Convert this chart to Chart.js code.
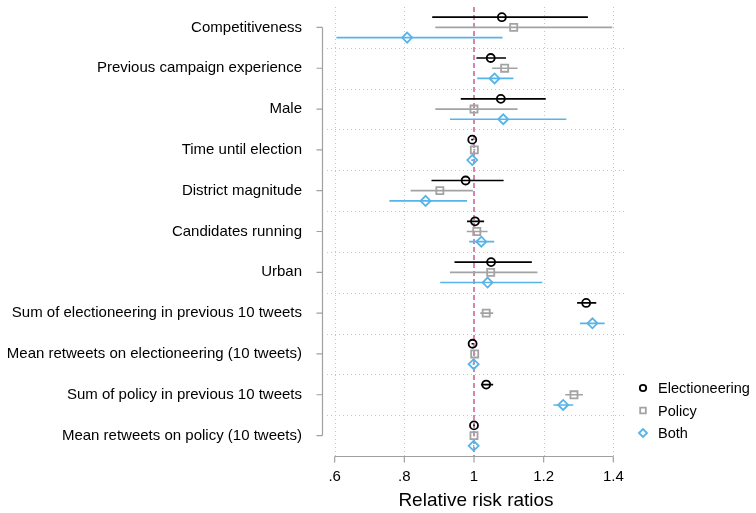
<!DOCTYPE html>
<html>
<head>
<meta charset="utf-8">
<script src="https://cdn.jsdelivr.net/npm/chart.js@4/dist/chart.umd.min.js"></script>
<style>
  html, body { margin: 0; padding: 0; background: #fff; }
  #wrap { width: 756px; height: 513px; }
</style>
</head>
<body>
<div id="wrap"><canvas id="chart"></canvas></div>
<script>
const categories = [
  'Competitiveness',
  'Previous campaign experience',
  'Male',
  'Time until election',
  'District magnitude',
  'Candidates running',
  'Urban',
  'Sum of electioneering in previous 10 tweets',
  'Mean retweets on electioneering (10 tweets)',
  'Sum of policy in previous 10 tweets',
  'Mean retweets on policy (10 tweets)'
];

// relative risk ratios with 95% CI
const elecEst = [1.080, 1.048, 1.077, 0.995, 0.976, 1.003, 1.049, 1.322, 0.996, 1.035, 1.000];
const elecLo  = [0.880, 1.007, 0.962, 0.992, 0.878, 0.980, 0.944, 1.296, 0.993, 1.020, 0.998];
const elecHi  = [1.327, 1.092, 1.206, 0.998, 1.085, 1.029, 1.166, 1.351, 0.999, 1.055, 1.002];

const polEst = [1.114, 1.088, 1.000, 1.001, 0.902, 1.008, 1.048, 1.035, 1.002, 1.287, 1.000];
const polLo  = [0.889, 1.052, 0.889, 0.998, 0.818, 0.979, 0.931, 1.018, 1.000, 1.262, 0.998];
const polHi  = [1.397, 1.125, 1.125, 1.004, 0.997, 1.039, 1.182, 1.055, 1.004, 1.313, 1.002];

const bothEst = [0.808, 1.059, 1.084, 0.995, 0.861, 1.021, 1.039, 1.340, 0.999, 1.256, 0.999];
const bothLo  = [0.605, 1.009, 0.931, 0.992, 0.757, 0.986, 0.903, 1.304, 0.996, 1.228, 0.997];
const bothHi  = [1.082, 1.113, 1.265, 0.998, 0.980, 1.058, 1.196, 1.375, 1.002, 1.285, 1.001];

const xTicks = [0.6, 0.8, 1, 1.2, 1.4];
const xTickLabels = ['.6', '.8', '1', '1.2', '1.4'];
const refValue = 1;

const FONT = "'Liberation Sans', Arial, Helvetica, sans-serif";
const AXIS_GREY = '#a0a0a0';

// series: label, estimates, lower, upper, vertical offset within a row, style
const series = [
  { label: 'Electioneering', est: elecEst, lo: elecLo, hi: elecHi, off: -0.25, color: '#000000', style: 'circle', r: 4 },
  { label: 'Policy',         est: polEst,  lo: polLo,  hi: polHi,  off: 0,     color: '#a3a3a3', style: 'rect',   r: 5 },
  { label: 'Both',           est: bothEst, lo: bothLo, hi: bothHi, off: 0.25,  color: '#56b4e9', style: 'rectRot', r: 5 }
];

const datasets = [];
series.forEach(s => {
  // point estimates on top
  datasets.push({
    type: 'scatter',
    label: s.label,
    data: s.est.map((v, i) => ({ x: v, y: i + s.off })),
    pointStyle: s.style,
    pointRadius: s.r,
    pointBorderWidth: 1.8,
    borderColor: s.color,
    backgroundColor: 'rgba(0,0,0,0)',
    order: 0
  });
  // CI segments as broken line
  const seg = [];
  s.lo.forEach((lo, i) => {
    seg.push({ x: lo, y: i + s.off });
    seg.push({ x: s.hi[i], y: i + s.off });
    seg.push({ x: null, y: null });
  });
  datasets.push({
    type: 'line',
    label: s.label + ' CI',
    data: seg,
    borderColor: s.color,
    borderWidth: 1.7,
    pointRadius: 0,
    spanGaps: false,
    fill: false,
    order: 1
  });
});

function drawMarker(ctx, style, r, cx, cy) {
  if (style === 'circle') {
    ctx.moveTo(cx + r, cy);
    ctx.arc(cx, cy, r, 0, Math.PI * 2);
  } else if (style === 'rect') {
    const h = r * Math.SQRT1_2;
    ctx.rect(cx - h, cy - h, 2 * h, 2 * h);
  } else {
    ctx.moveTo(cx - r, cy);
    ctx.lineTo(cx, cy - r);
    ctx.lineTo(cx + r, cy);
    ctx.lineTo(cx, cy + r);
    ctx.closePath();
  }
}

// grid, axis lines, reference line and legend, drawn stata-style
const framePlugin = {
  id: 'frame',
  beforeDatasetsDraw(chart) {
    const { ctx, chartArea: a, scales: { x, y } } = chart;
    ctx.save();
    ctx.lineWidth = 1;
    ctx.strokeStyle = '#c4c4c4';
    ctx.setLineDash([1, 3]);
    // dotted row separators
    for (let i = 0; i < categories.length - 1; i++) {
      const py = Math.round(y.getPixelForValue(i + 0.5)) + 0.5;
      ctx.beginPath();
      ctx.moveTo(a.left, py);
      ctx.lineTo(a.right, py);
      ctx.stroke();
    }
    // dotted vertical grid
    xTicks.forEach(t => {
      const px = Math.round(x.getPixelForValue(t)) + 0.5;
      ctx.beginPath();
      ctx.moveTo(px, a.top);
      ctx.lineTo(px, a.bottom);
      ctx.stroke();
    });
    // reference line at 1
    const rx = x.getPixelForValue(refValue);
    ctx.strokeStyle = '#d584b3';
    ctx.lineWidth = 2;
    ctx.setLineDash([5, 3]);
    ctx.beginPath();
    ctx.moveTo(rx, a.top);
    ctx.lineTo(rx, a.bottom);
    ctx.stroke();
    ctx.restore();
  },
  afterDraw(chart) {
    const { ctx, chartArea: a, scales: { x, y } } = chart;
    ctx.save();
    ctx.strokeStyle = AXIS_GREY;
    ctx.lineWidth = 1.2;
    ctx.setLineDash([]);
    // y axis line spans first to last tick, ticks point left
    const ax = a.left - 4.5;
    const y0 = y.getPixelForValue(0), y1 = y.getPixelForValue(categories.length - 1);
    ctx.beginPath();
    ctx.moveTo(ax, y0);
    ctx.lineTo(ax, y1);
    for (let i = 0; i < categories.length; i++) {
      const py = y.getPixelForValue(i);
      ctx.moveTo(ax, py);
      ctx.lineTo(ax - 6, py);
    }
    ctx.stroke();
    // x axis line spans first to last tick, ticks point down
    const ay = a.bottom + 0.5;
    const x0 = x.getPixelForValue(xTicks[0]), x1 = x.getPixelForValue(xTicks[xTicks.length - 1]);
    ctx.beginPath();
    ctx.moveTo(x0, ay);
    ctx.lineTo(x1, ay);
    xTicks.forEach(t => {
      const px = x.getPixelForValue(t);
      ctx.moveTo(px, ay);
      ctx.lineTo(px, ay + 6);
    });
    ctx.stroke();

    // legend
    const lx = a.right + 18;
    let ly = a.bottom - 68;
    ctx.font = '14.5px ' + FONT;
    ctx.textBaseline = 'middle';
    ctx.fillStyle = '#000';
    series.forEach(s => {
      ctx.strokeStyle = s.color;
      ctx.lineWidth = 1.8;
      ctx.beginPath();
      drawMarker(ctx, s.style, s.r * 0.8, lx, ly);
      ctx.stroke();
      ctx.fillText(s.label, lx + 15, ly + 1);
      ly += 22.5;
    });
    ctx.restore();
  }
};

new Chart(document.getElementById('chart'), {
  data: { datasets: datasets },
  plugins: [framePlugin],
  options: {
    responsive: true,
    maintainAspectRatio: false,
    animation: false,
    layout: { padding: { top: 7, right: 131, left: 0, bottom: 0 } },
    plugins: {
      legend: { display: false },
      tooltip: { enabled: false }
    },
    scales: {
      x: {
        type: 'linear',
        min: 0.578,
        max: 1.4335,
        afterBuildTicks: scale => { scale.ticks = xTicks.map(v => ({ value: v })); },
        afterFit: scale => {
          scale.height = 57;
          scale.paddingLeft = 0;
          scale.paddingRight = 0;
        },
        grid: { display: false },
        border: { display: false },
        ticks: {
          color: '#000',
          padding: 4,
          autoSkip: false,
          maxRotation: 0,
          font: { family: FONT, size: 15 },
          callback: v => xTickLabels[xTicks.indexOf(v)]
        },
        title: {
          display: true,
          text: 'Relative risk ratios',
          color: '#000',
          font: { family: FONT, size: 19 },
          padding: { top: 0, bottom: 1 }
        }
      },
      y: {
        type: 'linear',
        reverse: true,
        min: -0.5,
        max: categories.length - 0.5,
        afterBuildTicks: scale => { scale.ticks = categories.map((c, i) => ({ value: i })); },
        afterFit: scale => {
          scale.width = 327;
          scale.paddingTop = 0;
          scale.paddingBottom = 0;
        },
        grid: { display: false },
        border: { display: false },
        ticks: {
          color: '#000',
          padding: 17,
          autoSkip: false,
          font: { family: FONT, size: 15 },
          callback: v => categories[v]
        }
      }
    }
  }
});
</script>
</body>
</html>
